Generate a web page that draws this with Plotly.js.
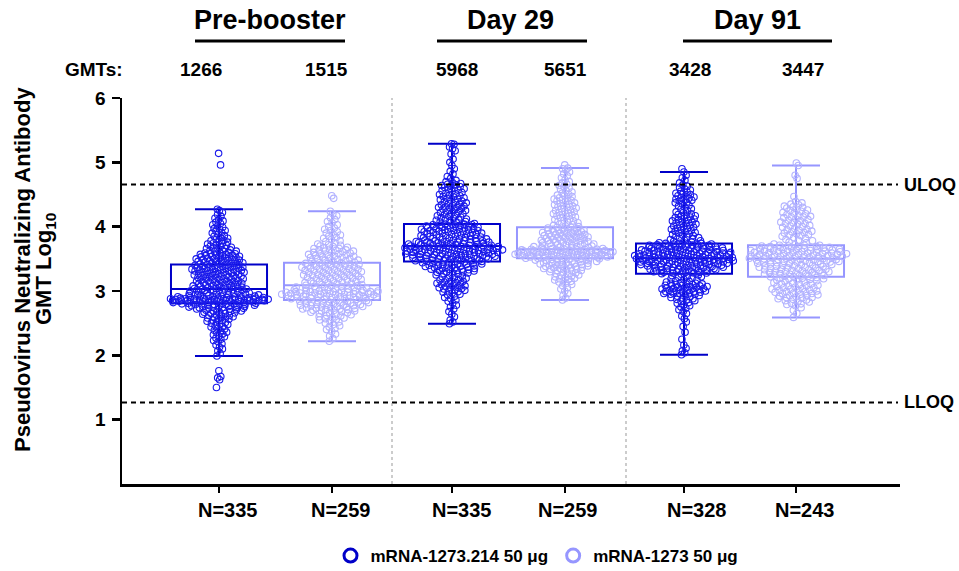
<!DOCTYPE html>
<html>
<head>
<meta charset="utf-8">
<script src="https://cdn.plot.ly/plotly-3.0.1.min.js"></script>
<style>html,body{margin:0;padding:0;background:#fff;}#chart{width:959px;height:571px;}</style>
</head>
<body>
<div id="chart"></div>
<script>
// ---------- data ----------
const timepoints = ["Pre-booster", "Day 29", "Day 91"];
const gmtValues = ["1266", "1515", "5968", "5651", "3428", "3447"];
const nLabels = ["N=335", "N=259", "N=335", "N=259", "N=328", "N=243"];
const seriesNames = ["mRNA-1273.214 50 μg", "mRNA-1273 50 μg"];

// box statistics (log10 GMT), in group order
const boxQ1     = [2.81, 2.86, 3.46, 3.51, 3.27, 3.22];
const boxMedian = [3.03, 3.09, 3.70, 3.65, 3.51, 3.50];
const boxQ3     = [3.41, 3.44, 4.04, 3.99, 3.74, 3.71];
const boxLow    = [1.99, 2.22, 2.49, 2.86, 2.01, 2.59];
const boxHigh   = [4.27, 4.24, 5.29, 4.91, 4.85, 4.95];

const uloq = 4.654;
const lloq = 1.267;

// individual participant values (log10), estimated from the figure
const pre214 = [
1.50,1.62,1.65,1.67,1.76,
1.99,2.03,2.07,2.10,2.13,2.16,2.18,2.21,2.23,2.25,2.27,2.29,
2.30,2.32,2.33,2.35,2.36,2.38,2.39,2.41,2.42,2.44,2.45,2.46,2.48,2.49,
2.50,2.51,2.52,2.53,2.54,2.55,2.56,2.57,2.58,2.58,2.59,2.60,2.61,2.62,2.62,2.63,2.64,2.65,2.65,2.66,2.67,2.67,2.68,2.69,2.69,
2.70,2.70,2.71,2.71,2.72,2.72,2.73,2.73,2.74,2.74,2.74,2.75,2.75,2.76,2.76,2.76,2.77,2.77,2.78,2.78,2.78,2.79,2.79,2.79,2.79,
2.80,2.80,2.80,2.81,2.81,2.81,2.82,2.82,2.82,2.83,2.83,2.83,2.84,2.84,2.84,2.84,
2.85,2.85,2.85,2.85,2.85,2.85,2.86,2.86,2.86,2.86,2.86,2.86,2.86,
2.87,2.87,2.87,2.87,2.87,2.87,2.87,2.87,2.87,2.88,2.88,2.88,2.88,2.88,2.88,2.88,
2.89,2.89,2.89,2.89,2.89,2.90,2.90,2.90,2.90,2.91,2.91,2.91,2.92,2.92,2.92,
2.93,2.93,2.93,2.94,2.94,2.94,2.95,2.95,2.96,2.96,2.97,2.97,2.98,2.99,2.99,
3.00,3.00,3.00,3.01,3.01,3.01,3.02,3.02,3.02,3.03,3.03,3.03,3.04,3.04,3.04,
3.05,3.05,3.06,3.06,3.07,3.07,3.08,3.08,3.09,3.09,3.10,3.10,3.11,3.11,3.12,3.12,3.13,3.13,3.14,3.14,3.15,3.15,3.16,3.16,3.17,3.17,3.18,3.18,3.19,3.19,
3.20,3.20,3.21,3.21,3.22,3.22,3.23,3.23,3.24,3.24,3.25,3.25,3.25,3.26,3.26,3.27,3.27,3.28,3.28,3.29,3.29,3.30,3.30,3.30,3.31,3.31,3.32,3.32,3.33,3.33,3.33,3.34,3.34,3.35,3.35,3.35,3.36,3.36,3.37,3.37,3.37,3.38,3.38,3.39,3.39,
3.40,3.40,3.41,3.41,3.42,3.42,3.43,3.43,3.44,3.44,3.45,3.45,3.46,3.46,3.47,3.47,3.48,3.48,3.49,3.49,3.50,3.50,3.51,3.51,3.52,3.52,3.53,3.53,3.54,3.54,3.55,3.55,3.56,3.56,3.57,3.57,3.58,3.58,3.59,3.59,
3.60,3.61,3.62,3.62,3.63,3.64,3.65,3.66,3.66,3.67,3.68,3.69,3.70,3.71,3.72,3.73,3.74,3.75,3.76,3.77,3.78,3.79,
3.80,3.82,3.83,3.85,3.86,3.88,3.90,3.91,3.93,3.94,3.96,3.97,3.99,
4.01,4.03,4.05,4.07,4.09,4.11,4.13,4.16,4.19,4.22,4.25,4.27,
4.96,5.14];

const pre1273 = [
2.22,2.26,2.30,2.33,2.37,2.40,2.42,2.44,2.46,2.48,
2.50,2.52,2.53,2.55,2.56,2.57,2.58,2.59,2.60,2.61,2.62,2.63,2.64,2.65,2.66,2.66,2.67,2.68,2.69,2.69,
2.70,2.70,2.71,2.71,2.72,2.72,2.73,2.73,2.74,2.74,2.75,2.75,2.76,2.76,2.77,2.77,2.78,2.78,2.78,2.79,2.79,2.80,2.80,2.81,2.81,2.82,2.82,2.82,2.83,2.83,2.84,2.84,2.85,2.85,
2.86,2.86,2.87,2.87,2.88,2.88,2.89,2.89,
2.90,2.90,2.90,2.91,2.91,2.91,2.92,2.92,2.92,2.93,2.93,2.93,
2.94,2.94,2.94,2.94,2.95,2.95,2.95,2.95,2.96,2.96,2.96,2.96,2.97,2.97,2.97,2.97,2.98,2.98,2.98,2.98,2.99,2.99,2.99,2.99,3.00,3.00,3.00,3.00,
3.01,3.01,3.02,3.02,3.03,3.03,3.04,3.04,3.05,3.05,3.06,3.06,3.07,3.07,3.08,3.08,3.09,3.09,
3.10,3.10,3.11,3.12,3.12,3.13,3.13,3.14,3.15,3.15,3.16,3.16,3.17,3.18,3.18,3.19,3.19,3.20,3.20,3.21,3.22,3.22,3.23,3.23,3.24,3.24,3.25,3.25,3.26,3.26,3.27,3.28,3.28,3.29,3.29,
3.30,3.30,3.31,3.31,3.32,3.32,3.33,3.33,3.34,3.34,3.35,3.35,3.36,3.37,3.37,3.38,3.38,3.39,3.39,3.40,3.40,3.41,3.41,3.42,3.42,3.43,3.43,3.44,3.44,
3.45,3.46,3.46,3.47,3.48,3.48,3.49,3.50,3.50,3.51,3.52,3.52,3.53,3.54,3.54,3.55,3.56,3.56,3.57,3.58,3.58,3.59,3.60,3.60,3.61,3.62,3.62,3.63,3.64,3.64,3.65,3.66,3.66,3.67,3.68,3.69,
3.70,3.71,3.72,3.73,3.75,3.77,3.78,3.80,3.82,3.83,3.85,3.87,3.88,3.90,3.92,3.94,3.96,3.98,
4.00,4.03,4.06,4.08,4.11,4.14,4.17,4.20,4.24,
4.44,4.48];

const d29_214 = [
2.49,2.52,2.55,2.60,2.64,2.68,2.72,2.75,2.78,2.81,2.84,2.86,2.88,2.90,2.92,2.94,2.95,2.97,2.98,2.99,
3.00,3.01,3.02,3.03,3.04,3.05,3.05,3.06,3.07,3.08,3.09,3.10,3.11,3.12,3.12,3.13,3.14,3.15,3.16,3.17,3.18,3.19,
3.20,3.21,3.22,3.23,3.24,3.25,3.26,3.27,3.28,3.28,3.29,3.30,3.30,3.31,3.32,3.32,3.33,3.33,3.34,3.34,3.35,3.35,3.36,3.36,3.37,3.37,3.38,3.38,3.39,3.39,3.40,3.40,3.41,3.41,3.42,3.42,3.43,3.43,3.44,3.44,3.45,3.45,
3.46,3.46,3.46,3.47,3.47,3.47,3.48,3.48,3.48,3.49,3.49,3.49,3.50,3.50,3.50,3.51,3.51,3.51,3.52,3.52,3.52,3.53,3.53,3.53,3.54,3.54,3.54,3.55,3.55,3.55,
3.56,3.56,3.56,3.56,3.57,3.57,3.57,3.58,3.58,3.58,3.58,3.59,3.59,3.59,3.60,3.60,3.60,3.60,3.61,3.61,3.61,
3.62,3.62,3.62,3.62,3.63,3.63,3.63,3.63,3.64,3.64,3.64,3.64,3.65,3.65,3.65,3.65,3.66,3.66,3.66,3.66,3.67,3.67,3.67,3.67,3.68,3.68,3.68,3.68,3.69,3.69,3.69,3.69,3.70,3.70,3.70,3.70,
3.71,3.71,3.71,3.72,3.72,3.72,3.73,3.73,3.73,3.74,3.74,3.74,3.75,3.75,3.75,3.76,3.76,3.76,3.77,3.77,3.77,3.78,3.78,3.78,
3.79,3.79,3.80,3.80,3.81,3.81,3.82,3.82,3.82,3.83,3.83,3.84,3.84,3.85,3.85,3.86,3.86,3.86,3.87,3.87,3.88,3.88,3.89,3.89,3.90,3.90,3.90,
3.91,3.91,3.92,3.92,3.93,3.93,3.94,3.94,3.94,3.95,3.95,3.96,3.96,3.97,3.97,3.98,3.98,3.98,3.99,3.99,4.00,4.00,4.01,4.01,4.01,4.02,4.02,4.03,4.03,4.03,4.04,4.04,
4.05,4.06,4.07,4.08,4.09,4.10,4.11,4.12,4.12,4.13,4.14,4.15,4.16,4.17,4.18,4.19,4.20,4.21,4.22,4.23,4.24,4.25,4.26,4.27,4.28,4.29,4.30,4.30,
4.31,4.32,4.33,4.34,4.35,4.36,4.37,4.38,4.39,4.40,4.41,4.42,4.43,4.44,4.45,4.46,4.47,4.48,4.49,
4.50,4.51,4.52,4.53,4.55,4.56,4.57,4.58,4.59,4.60,4.61,4.62,4.63,4.64,4.65,4.66,4.67,4.68,4.70,4.72,4.75,4.78,
4.82,4.86,4.90,4.95,5.00,5.05,5.13,5.18,5.21,5.24,5.28,5.29];

const d29_1273 = [
2.86,2.89,2.93,2.96,3.00,3.03,3.05,3.08,3.10,3.12,3.14,3.15,3.16,3.17,3.18,3.19,
3.20,3.21,3.22,3.23,3.24,3.25,3.26,3.27,3.28,3.29,3.30,3.31,3.32,3.32,3.33,3.34,3.34,3.35,3.35,3.36,3.36,3.37,3.37,3.38,3.38,3.39,3.39,3.40,3.40,3.41,3.41,3.42,3.42,3.43,3.43,3.44,3.44,3.45,3.45,3.46,3.46,3.47,3.47,3.48,3.48,3.49,3.49,3.50,3.50,
3.51,3.51,3.51,3.51,3.52,3.52,3.52,3.52,3.53,3.53,3.53,3.53,3.54,3.54,3.54,3.54,3.55,3.55,3.55,3.55,3.56,3.56,3.56,3.56,3.57,3.57,3.57,3.57,
3.58,3.58,3.58,3.58,3.58,3.59,3.59,3.59,3.59,3.59,3.60,3.60,3.60,3.60,3.60,3.61,3.61,3.61,3.61,3.61,3.62,3.62,3.62,3.62,3.62,
3.63,3.63,3.63,3.63,3.64,3.64,3.64,3.64,3.65,3.65,3.65,3.65,
3.66,3.66,3.67,3.67,3.68,3.68,3.69,3.69,3.70,3.70,3.71,3.71,3.72,3.72,3.73,3.73,3.74,3.74,3.75,3.75,3.76,3.76,3.77,3.77,3.78,3.78,3.79,3.79,3.80,3.80,3.81,3.82,3.82,
3.83,3.83,3.84,3.84,3.85,3.85,3.86,3.86,3.87,3.88,3.88,3.89,3.89,3.90,3.90,3.91,3.91,3.92,3.92,3.93,3.94,3.94,3.95,3.95,3.96,3.96,3.97,3.98,3.98,3.99,3.99,
4.00,4.01,4.02,4.03,4.05,4.06,4.07,4.08,4.09,4.10,4.11,4.12,4.14,4.15,4.16,4.17,4.18,4.19,4.20,4.21,4.22,4.23,4.24,4.25,4.26,4.28,4.29,
4.30,4.31,4.32,4.33,4.34,4.35,4.36,4.37,4.39,4.40,4.41,4.42,4.43,4.44,4.45,4.47,4.48,4.49,
4.50,4.52,4.54,4.56,4.58,4.60,4.62,4.64,4.66,4.68,4.70,4.73,4.76,4.79,4.82,4.85,4.88,4.90,4.91,4.96];

const d91_214 = [
2.01,2.04,2.07,2.11,2.16,2.25,2.36,2.45,
2.52,2.57,2.61,2.65,2.68,2.71,2.73,2.75,2.77,2.79,2.81,2.82,2.84,2.85,2.86,2.87,2.88,2.89,
2.90,2.91,2.92,2.93,2.94,2.95,2.95,2.96,2.96,2.97,2.97,2.98,2.98,2.99,2.99,3.00,3.00,3.01,3.01,3.02,3.02,3.03,3.03,3.04,3.04,3.05,3.05,3.06,3.06,3.07,3.07,3.08,3.08,3.09,3.09,3.10,3.10,3.11,3.11,3.12,3.12,3.13,3.14,3.15,
3.16,3.17,3.18,3.19,3.20,3.21,3.22,3.23,3.24,3.25,3.26,3.27,
3.28,3.28,3.28,3.29,3.29,3.29,3.30,3.30,3.30,3.31,3.31,3.31,3.32,3.32,3.32,3.33,3.33,3.33,3.34,3.34,3.34,3.35,3.35,3.35,3.36,3.36,3.36,3.37,3.37,3.37,3.38,3.38,3.38,3.39,3.39,3.39,3.40,3.40,3.40,3.41,3.41,3.41,
3.42,3.42,3.42,3.42,3.43,3.43,3.43,3.43,3.44,3.44,3.44,3.44,3.45,3.45,3.45,3.45,3.46,3.46,3.46,3.46,3.47,3.47,3.47,3.47,3.48,3.48,3.48,3.48,3.49,3.49,3.49,3.49,3.50,3.50,3.50,3.50,3.51,3.51,3.51,3.51,
3.52,3.52,3.52,3.52,3.53,3.53,3.53,3.53,3.54,3.54,3.54,3.54,3.55,3.55,3.55,3.55,3.56,3.56,3.56,3.56,3.57,3.57,3.57,3.57,3.58,3.58,3.58,3.58,3.59,3.59,3.59,3.59,3.60,3.60,3.60,3.60,
3.61,3.61,3.61,3.62,3.62,3.62,3.62,3.63,3.63,3.63,3.64,3.64,3.64,3.65,3.65,3.65,3.65,3.66,3.66,3.66,3.67,3.67,3.67,3.68,3.68,3.68,3.68,3.69,3.69,3.69,3.70,3.70,3.70,3.71,3.71,3.71,3.71,3.72,3.72,3.72,3.73,3.73,3.73,3.74,3.74,3.74,
3.75,3.76,3.77,3.78,3.79,3.80,3.81,3.82,3.83,3.84,3.85,3.86,3.87,3.88,3.89,3.90,3.91,3.92,3.93,3.94,3.95,3.96,3.97,3.98,3.99,
4.00,4.01,4.02,4.03,4.04,4.05,4.06,4.07,4.08,4.09,4.10,4.11,4.12,4.13,4.14,4.15,4.16,4.17,4.18,4.19,
4.20,4.22,4.23,4.25,4.27,4.28,4.30,4.32,4.33,4.35,4.37,4.38,4.40,4.41,4.42,4.43,4.44,4.45,4.46,4.47,4.48,4.50,4.51,4.52,4.54,4.55,4.57,4.59,
4.61,4.63,4.65,4.68,4.72,4.76,4.80,4.85,4.90];

const d91_1273 = [
2.59,2.65,2.70,2.74,2.77,2.79,2.80,2.81,2.83,2.84,
2.85,2.86,2.87,2.88,2.89,2.90,2.90,2.91,2.92,2.93,2.93,2.94,2.95,2.96,2.96,2.97,2.98,2.99,2.99,3.00,
3.01,3.01,3.02,3.03,3.03,3.04,3.05,3.05,3.06,3.07,3.08,3.08,3.09,3.10,3.11,3.11,3.12,3.13,3.14,3.15,
3.16,3.17,3.17,3.18,3.19,3.19,3.20,3.20,3.21,3.22,3.22,
3.23,3.23,3.24,3.24,3.25,3.25,3.26,3.26,3.27,3.27,3.28,3.28,3.29,3.29,3.30,3.30,3.31,3.31,3.32,3.32,3.33,3.33,3.34,3.34,3.35,3.35,3.36,3.36,
3.37,3.37,3.38,3.38,3.39,3.39,3.40,3.40,3.41,3.41,3.42,3.42,3.43,3.43,3.44,3.44,3.45,3.45,3.45,3.46,3.46,3.46,3.47,3.47,3.47,3.48,3.48,3.48,3.49,3.49,3.49,3.50,3.50,
3.51,3.51,3.52,3.52,3.52,3.53,3.53,3.53,3.54,3.54,3.54,3.55,3.55,3.55,3.56,3.56,3.56,3.57,3.57,3.57,3.58,3.58,3.58,3.59,3.59,3.59,3.60,3.60,3.60,
3.61,3.61,3.61,3.62,3.62,3.62,3.63,3.63,3.63,3.64,3.64,3.64,3.65,3.65,3.65,3.66,3.66,3.67,3.67,3.67,3.68,3.68,3.68,3.69,3.69,3.69,3.70,3.70,3.71,3.71,3.71,
3.72,3.73,3.75,3.76,3.78,3.79,3.80,3.82,3.83,3.85,3.86,3.87,3.88,3.89,3.90,3.91,3.92,3.93,3.94,3.95,3.96,3.97,3.99,
4.00,4.01,4.02,4.04,4.05,4.05,4.06,4.07,4.09,4.10,4.11,4.12,4.14,4.15,4.15,4.16,4.17,4.19,4.20,4.21,4.22,4.24,4.25,4.26,4.27,4.29,4.30,4.31,4.32,4.34,4.35,4.37,4.39,
4.47,4.75,4.80,4.95,4.99];

// ---------- layout constants ----------
const groupsData = [pre214, pre1273, d29_214, d29_1273, d91_214, d91_1273];
const boxPx = [219, 332, 452, 565, 684, 796];          // box centres, px
const nPx = [228, 341, 462, 568, 697, 805];            // N label centres, px
const gmtPx = [201, 326, 457, 565, 690, 803];          // GMT label centres, px
const headerPx = [[195, 345, 270], [437, 587, 510], [683, 832, 757]];
const sepPx = [392, 626];
const PX0 = 219, UNIT = 113, TOP = 98, BOT = 484;
const px2x = p => (p - PX0) / UNIT;
const py = p => (BOT - p) / (BOT - TOP);

const DARK = "rgb(0,0,200)", DARK_PT = "rgb(25,25,235)";
const LIGHT = "rgb(150,150,255)", LIGHT_PT = "rgb(178,178,255)";
const FONT = "Arial, 'Liberation Sans', sans-serif";

// swarm-style horizontal spread: width follows local point density
function swarmX(vals, center, halfW) {
  const bw = 0.06;
  const dens = vals.map(v => vals.reduce((s, u) => s + Math.exp(-0.5 * ((u - v) / bw) ** 2), 0));
  const dmax = Math.max(...dens);
  const order = vals.map((v, i) => i).sort((a, b) => vals[a] - vals[b]);
  const xs = new Array(vals.length);
  order.forEach((i, k) => {
    const f = Math.max(dens[i] / dmax, 0.05);
    const s = 2 * ((k * 0.6180339887) % 1) - 1;
    xs[i] = center + s * f * halfW;
  });
  return xs;
}

const traces = [];
groupsData.forEach((vals, i) => {
  const dark = i % 2 === 0;
  const c = dark ? DARK_PT : LIGHT_PT;
  traces.push({
    type: "scatter", mode: "markers", y: vals, x: swarmX(vals, px2x(boxPx[i]), 0.45),
    marker: {symbol: "circle-open", size: 6.5, color: c, line: {width: 1.1, color: c}},
    showlegend: false, hoverinfo: "y"
  });
});
groupsData.forEach((vals, i) => {
  const dark = i % 2 === 0;
  traces.push({
    type: "box", x: [px2x(boxPx[i])],
    q1: [boxQ1[i]], median: [boxMedian[i]], q3: [boxQ3[i]],
    lowerfence: [boxLow[i]], upperfence: [boxHigh[i]],
    width: 0.85, whiskerwidth: 0.5, boxpoints: false,
    line: {width: 2, color: dark ? DARK : LIGHT}, fillcolor: "rgba(0,0,0,0)",
    showlegend: false, hoverinfo: "skip"
  });
});
seriesNames.forEach((name, k) => {
  traces.push({
    type: "scatter", mode: "markers", x: [null], y: [null], name: name,
    marker: {symbol: "circle-open", size: 13, color: k === 0 ? DARK : LIGHT,
             line: {width: 3, color: k === 0 ? DARK : LIGHT}}
  });
});

const shapes = [];
const annotations = [];
const bold = (size) => ({family: FONT, size: size, weight: 700, color: "black"});
// ULOQ / LLOQ
[[uloq, "ULOQ"], [lloq, "LLOQ"]].forEach(([v, t]) => {
  shapes.push({type: "line", xref: "paper", yref: "y", x0: 0, x1: (898 - 122) / 778, y0: v, y1: v,
               line: {color: "black", width: 2, dash: "5px,4px"}});
  annotations.push({xref: "paper", yref: "y", x: (902 - 122) / 778, y: v, xanchor: "left", yanchor: "middle",
                    text: t, showarrow: false, font: bold(18)});
});
// separators
sepPx.forEach(p => shapes.push({type: "line", xref: "x", yref: "paper", x0: px2x(p), x1: px2x(p), y0: 0, y1: 1,
                                 line: {color: "#999", width: 1, dash: "dot"}}));
// headers
timepoints.forEach((t, k) => {
  const [a, b, c] = headerPx[k];
  shapes.push({type: "line", xref: "x", yref: "paper", x0: px2x(a), x1: px2x(b), y0: py(41), y1: py(41),
               line: {color: "black", width: 3}});
  annotations.push({xref: "x", yref: "paper", x: px2x(c), y: py(20), xanchor: "center", yanchor: "middle",
                    text: t, showarrow: false, font: bold(27)});
});
// GMTs row
annotations.push({xref: "x", yref: "paper", x: px2x(125), y: py(70), xanchor: "right", yanchor: "middle",
                  text: "GMTs:", showarrow: false, font: bold(19)});
gmtValues.forEach((g, i) => annotations.push({xref: "x", yref: "paper", x: px2x(gmtPx[i]), y: py(70),
  xanchor: "center", yanchor: "middle", text: g, showarrow: false, font: bold(19)}));
// N labels under each box
nLabels.forEach((t, i) => annotations.push({xref: "x", yref: "paper", x: px2x(nPx[i]), y: py(510),
  xanchor: "center", yanchor: "middle", text: t, showarrow: false, font: bold(20)}));
// y title (two lines)
annotations.push({xref: "paper", yref: "paper", x: (22 - 122) / 778, y: py(270), xanchor: "center", yanchor: "middle",
  textangle: -90, text: "Pseudovirus Neutralizing Antibody", showarrow: false, font: bold(22)});
annotations.push({xref: "paper", yref: "paper", x: (45 - 122) / 778, y: py(269), xanchor: "center", yanchor: "middle",
  textangle: -90, text: "GMT Log<sub>10</sub>", showarrow: false, font: bold(22)});

const layout = {
  width: 959, height: 571,
  margin: {l: 122, r: 59, t: 98, b: 87, pad: 0, autoexpand: false},
  paper_bgcolor: "white", plot_bgcolor: "white",
  font: {family: FONT, color: "black"},
  showlegend: true,
  legend: {orientation: "h", x: (537 - 122) / 778, xanchor: "center", y: py(556), yanchor: "middle",
           font: bold(17), itemwidth: 30, traceorder: "normal"},
  xaxis: {type: "linear", range: [px2x(122), px2x(900)], tickmode: "array",
          tickvals: boxPx.map(px2x), showticklabels: false,
          showline: true, linewidth: 2.5, linecolor: "black", ticks: "outside", ticklen: 6, tickwidth: 2,
          tickcolor: "black", showgrid: false, zeroline: false},
  yaxis: {range: [0, 6], tickmode: "array", tickvals: [1, 2, 3, 4, 5, 6],
          showline: true, linewidth: 2.5, linecolor: "black", ticks: "outside", ticklen: 8, tickwidth: 2.5,
          tickcolor: "black", showgrid: false, zeroline: false, ticklabelstandoff: 2,
          tickfont: bold(19)},
  shapes: shapes, annotations: annotations
};

Plotly.newPlot("chart", traces, layout, {staticPlot: true, displayModeBar: false});
</script>
</body>
</html>
